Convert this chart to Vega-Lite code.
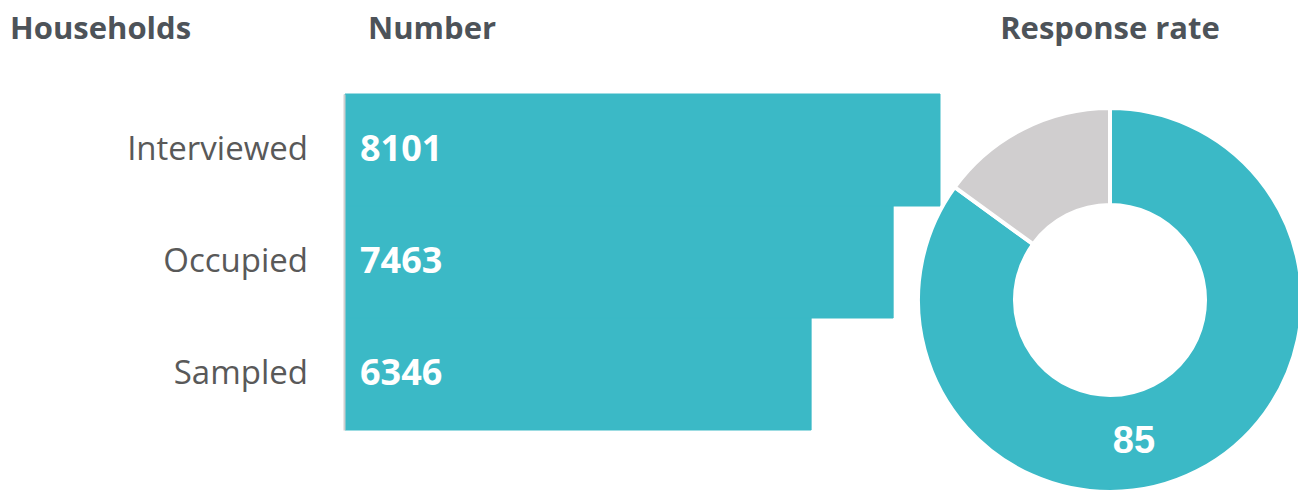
{
  "$schema": "https://vega.github.io/schema/vega-lite/v6.json",
  "padding": {"left": 10, "top": 13, "right": 0, "bottom": 0},
  "background": "white",
  "bounds": "flush",
  "spacing": 37,
  "config": {
    "view": {"stroke": null},
    "title": {"font": "Open Sans", "fontSize": 31, "fontWeight": "bold", "color": "#4D5359"}
  },
  "datasets": {
    "households": [
      {"category": "Interviewed", "count": 8101},
      {"category": "Occupied", "count": 7463},
      {"category": "Sampled", "count": 6346}
    ],
    "response": [
      {"status": "Responded", "rate": 85},
      {"status": "Not responded", "rate": 15}
    ]
  },
  "hconcat": [
    {
      "width": 298,
      "height": 336,
      "title": {"text": "Households", "anchor": "start", "frame": "group", "offset": 48},
      "data": {"name": "households"},
      "mark": {"type": "text", "align": "right", "baseline": "middle", "font": "Open Sans", "fontSize": 33, "color": "#595959"},
      "encoding": {
        "y": {"field": "category", "type": "nominal", "sort": ["Interviewed", "Occupied", "Sampled"], "scale": {"paddingInner": 0, "paddingOuter": 0}, "axis": null},
        "x": {"datum": 1, "type": "quantitative", "scale": {"domain": [0, 1]}, "axis": null},
        "text": {"field": "category"}
      }
    },
    {
      "width": 595,
      "height": 336,
      "title": {"text": "Number", "anchor": "start", "frame": "group", "dx": 23, "offset": 48},
      "data": {"name": "households"},
      "encoding": {
        "y": {"field": "category", "type": "nominal", "sort": ["Interviewed", "Occupied", "Sampled"], "scale": {"paddingInner": 0, "paddingOuter": 0},
          "axis": {"labels": false, "ticks": false, "title": null, "domain": true, "domainColor": "#cfcfcf", "domainWidth": 2, "offset": 1, "zindex": 1}}
      },
      "layer": [
        {
          "mark": {"type": "bar", "color": "#3BB9C6", "stroke": "#3BB9C6", "strokeWidth": 1},
          "encoding": {
            "x": {"field": "count", "type": "quantitative", "scale": {"domain": [0, 8101], "nice": false}, "axis": null}
          }
        },
        {
          "mark": {"type": "text", "align": "left", "baseline": "middle", "dx": 15, "font": "Open Sans", "fontSize": 36, "fontWeight": "bold", "color": "white"},
          "encoding": {
            "x": {"datum": 0, "type": "quantitative"},
            "text": {"field": "count", "type": "quantitative", "format": "d"}
          }
        }
      ]
    },
    {
      "width": 266,
      "height": 412,
      "title": {"text": "Response rate", "anchor": "middle", "frame": "group", "offset": 48},
      "data": {"name": "response"},
      "encoding": {
        "theta": {"field": "rate", "type": "quantitative", "stack": true},
        "order": {"field": "rate", "type": "quantitative", "sort": "descending"},
        "color": {"field": "status", "type": "nominal", "scale": {"domain": ["Responded", "Not responded"], "range": ["#3BB9C6", "#D0CECF"]}, "legend": null}
      },
      "layer": [
        {
          "mark": {"type": "arc", "outerRadius": 192, "innerRadius": 95, "stroke": "white", "strokeWidth": 4}
        },
        {
          "mark": {"type": "text", "radius": 143, "font": "Liberation Sans", "fontSize": 38, "fontWeight": "bold", "baseline": "middle", "align": "center", "dx": -41, "dy": 15},
          "encoding": {
            "text": {"condition": {"test": "datum.status === 'Responded'", "field": "rate"}, "value": ""},
            "color": {"value": "white"}
          }
        }
      ]
    }
  ]
}
